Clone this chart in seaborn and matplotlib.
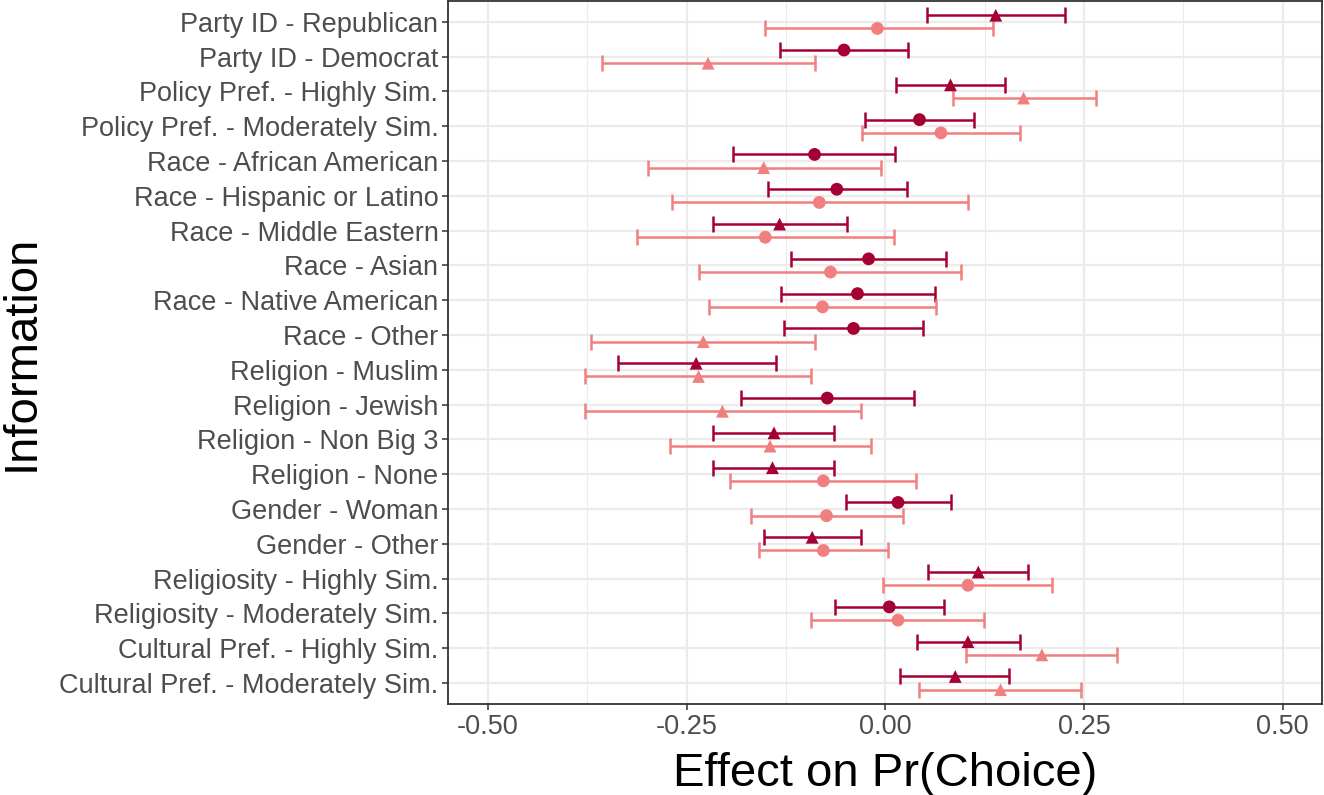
import numpy as np
import pandas as pd
import seaborn as sns
from matplotlib import pyplot as plt

# rows, top to bottom
labels = [
    "Party ID - Republican", "Party ID - Democrat",
    "Policy Pref. - Highly Sim.", "Policy Pref. - Moderately Sim.",
    "Race - African American", "Race - Hispanic or Latino",
    "Race - Middle Eastern", "Race - Asian", "Race - Native American",
    "Race - Other", "Religion - Muslim", "Religion - Jewish",
    "Religion - Non Big 3", "Religion - None", "Gender - Woman",
    "Gender - Other", "Religiosity - Highly Sim.",
    "Religiosity - Moderately Sim.", "Cultural Pref. - Highly Sim.",
    "Cultural Pref. - Moderately Sim.",
]

# dark red series (upper of each pair)
est_dark = [0.139, -0.052, 0.082, 0.043, -0.089, -0.061, -0.133, -0.021, -0.035, -0.040,
            -0.238, -0.073, -0.140, -0.142, 0.016, -0.092, 0.117, 0.005, 0.104, 0.088]
lo_dark = [0.053, -0.133, 0.014, -0.026, -0.192, -0.148, -0.217, -0.119, -0.131, -0.127,
           -0.336, -0.182, -0.217, -0.217, -0.050, -0.153, 0.054, -0.063, 0.040, 0.019]
hi_dark = [0.226, 0.029, 0.151, 0.112, 0.012, 0.027, -0.048, 0.076, 0.062, 0.047,
           -0.138, 0.036, -0.064, -0.065, 0.083, -0.031, 0.180, 0.074, 0.169, 0.156]

# light red series (lower of each pair)
est_light = [-0.010, -0.223, 0.174, 0.070, -0.153, -0.083, -0.151, -0.069, -0.079, -0.229,
             -0.235, -0.205, -0.145, -0.078, -0.074, -0.078, 0.104, 0.016, 0.197, 0.145]
lo_light = [-0.151, -0.357, 0.085, -0.029, -0.298, -0.269, -0.313, -0.234, -0.222, -0.370,
            -0.378, -0.378, -0.271, -0.195, -0.169, -0.159, -0.003, -0.093, 0.101, 0.043]
hi_light = [0.136, -0.088, 0.265, 0.169, -0.006, 0.104, 0.011, 0.095, 0.064, -0.088,
            -0.093, -0.031, -0.018, 0.039, 0.022, 0.003, 0.210, 0.124, 0.292, 0.246]

colors = {"dark": "#A50034", "light": "#F08080"}
offset = {"dark": -0.19, "light": 0.19}

frames = []
for name, est, lo, hi in [("dark", est_dark, lo_dark, hi_dark),
                          ("light", est_light, lo_light, hi_light)]:
    d = pd.DataFrame({"label": labels, "est": est, "lo": lo, "hi": hi})
    d["series"] = name
    d["ypos"] = np.arange(len(labels)) + offset[name]
    # triangle when the interval excludes zero
    d["sig"] = np.where((d["lo"] > 0) | (d["hi"] < 0), "sig", "ns")
    frames.append(d)
df = pd.concat(frames, ignore_index=True)

sns.set_style("white")
plt.rcParams["font.family"] = ["Liberation Sans", "DejaVu Sans"]

fig = plt.figure(figsize=(13.24, 7.95), dpi=100)
ax = fig.add_axes([0.3385, 0.1145, 0.6603, 0.8843])

# grid like theme_bw
for v in [-0.375, -0.125, 0.125, 0.375]:
    ax.axvline(v, color="#EBEBEB", lw=0.8, zorder=0)
for v in [-0.5, -0.25, 0, 0.25, 0.5]:
    ax.axvline(v, color="#EBEBEB", lw=1.6, zorder=0)
for i in range(len(labels)):
    ax.axhline(i, color="#EBEBEB", lw=1.6, zorder=0)

for name, d in df.groupby("series"):
    ax.errorbar(d["est"], d["ypos"], xerr=[d["est"] - d["lo"], d["hi"] - d["est"]],
                fmt="none", ecolor=colors[name], elinewidth=1.8, capsize=5.5,
                capthick=1.8, zorder=2)

sns.scatterplot(data=df, x="est", y="ypos", hue="series", style="sig",
                palette=colors, markers={"sig": "^", "ns": "o"},
                s=85, linewidth=0, legend=False, zorder=3, ax=ax)

ax.set_xlim(-0.55, 0.55)
ax.set_ylim(len(labels) - 0.4, -0.6)
ax.set_xticks([-0.5, -0.25, 0, 0.25, 0.5])
ax.set_xticklabels(["-0.50", "-0.25", "0.00", "0.25", "0.50"])
ax.set_yticks(range(len(labels)))
ax.set_yticklabels(labels)
ax.tick_params(axis="both", labelsize=19.5, labelcolor="#4D4D4D", color="#333333",
               length=4, width=1.1, pad=3, left=True, bottom=True)
for s in ax.spines.values():
    s.set_color("#333333")
    s.set_linewidth(1.3)

ax.set_xlabel("Effect on Pr(Choice)", fontsize=34, color="black", labelpad=9)
ax.set_ylabel("Information", fontsize=34, color="black", labelpad=11)

plt.savefig("out.png", dpi=100)
